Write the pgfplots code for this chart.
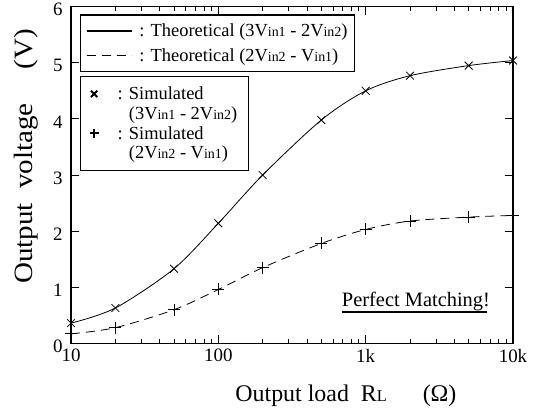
\documentclass[border=0pt]{standalone}
\usepackage{graphicx}
\usepackage{pgfplots}
\pgfplotsset{compat=1.18}
\usepackage{pgfplotstable}
\usepackage{fontspec}
\setmainfont{Liberation Serif}
\newcommand\fsz[1]{\fontsize{#1}{#1}\selectfont}
\newcommand\vsub[1]{{\fsz{14}#1}}
\newcommand\ulpm[1]{\setbox0\hbox{#1}\rlap{\copy0}\rule[-7bp]{\dimexpr\wd0-3bp\relax}{2bp}}

\pgfplotstableread{
R     th1   th2
10    0.36  0.17
20    0.63  0.28
50    1.33  0.60
100   2.14  0.96
200   3.00  1.35
500   3.98  1.78
1000  4.50  2.03
2000  4.77  2.18
5000  4.95  2.25
10000 5.04  2.28
}\datatab

\pgfplotsset{
  linelegend/.style={legend image code/.code={\draw[##1, line width=1.8bp] (0bp,0bp) -- (45bp,0bp);}},
  marklegend/.style={legend image code/.code={\draw[##1, line width=2bp, mark size=4.5bp] plot coordinates {(0bp,0bp)};}},
}

\begin{document}
\begin{tikzpicture}
\begin{axis}[
  scale only axis, width=442bp, height=336.7bp,
  xmode=log, xmin=10, xmax=10000, ymin=0, ymax=6,
  axis line style={line width=1.3bp},
  tick style={black, line width=0.9bp},
  tick align=inside, major tick length=8bp, minor tick length=4bp,
  xtick={10,100,1000,10000}, xticklabels={10,100,1k,10k},
  ytick={0,1,2,3,4,5,6},
  /pgf/number format/assume math mode=true,
  tick label style={font=\fsz{19}},
  xticklabel style={yshift=-2bp},
  yticklabel style={xshift=-5bp, yshift=-3bp},
  xlabel={Output load\enspace R{\fsz{16.5}L}\quad\enspace(Ω)},
  ylabel={\scalebox{1.1}[1]{Output\enspace voltage\quad\,(V)}},
  xlabel style={at={(axis description cs:0.622,-0.172)}, anchor=base, font=\fsz{24}},
  ylabel style={at={(axis description cs:-0.088,0.555)}, anchor=base, font=\fsz{26.5}},
  legend style={at={(9/442,1-7.7/336.7)}, anchor=north west, draw=black,
    line width=1.3bp, inner xsep=5bp, inner ysep=7bp, row sep=6bp,
    nodes={inner sep=2bp, font=\fsz{18.5}},
    /tikz/every odd column/.append style={column sep=5bp}},
  legend cell align=left,
  linelegend,
]
\addplot[black, line width=0.8bp, smooth] table[x=R, y=th1] {\datatab};
\addlegendentry{: Theoretical (3V\vsub{in1} - 2V\vsub{in2})\hspace{5bp}}
\addplot[black, line width=0.8bp, smooth, dash pattern=on 9bp off 6bp] table[x=R, y=th2] {\datatab};
\addlegendentry{: Theoretical (2V\vsub{in2} - V\vsub{in1})}
\node[anchor=base, font=\fsz{20.5}] at (rel axis cs:0.777,0.110) {\ulpm{Perfect Matching!}};
\coordinate (o) at (rel axis cs:0,0);
\end{axis}
\begin{axis}[
  scale only axis, width=442bp, height=336.7bp,
  xmode=log, xmin=10, xmax=10000, ymin=0, ymax=6,
  hide axis, clip=false,
  legend style={at={(9/442,1-69.4/336.7)}, anchor=north west, draw=black,
    line width=1.3bp, inner xsep=9bp, inner ysep=8bp, row sep=1.5bp,
    nodes={inner sep=2bp, font=\fsz{18.5}},
    /tikz/every odd column/.append style={column sep=17bp}},
  legend cell align=left,
  marklegend,
]
\addplot[black, only marks, mark=x, mark size=5.5bp, line width=0.8bp] table[x=R, y=th1] {\datatab};
\addlegendentry{: Simulated}
\addlegendimage{empty legend}
\addlegendentry{\phantom{: }(3V\vsub{in1} - 2V\vsub{in2})\hspace{8bp}}
\addplot[black, only marks, mark=+, mark size=6bp, line width=0.8bp] table[x=R, y=th2] {\datatab};
\addlegendentry{: Simulated}
\addlegendimage{empty legend}
\addlegendentry{\phantom{: }(2V\vsub{in2} - V\vsub{in1})}
\end{axis}
\path (o) ++(-71bp,-74bp) rectangle ++(542bp,414bp);
\end{tikzpicture}
\end{document}
